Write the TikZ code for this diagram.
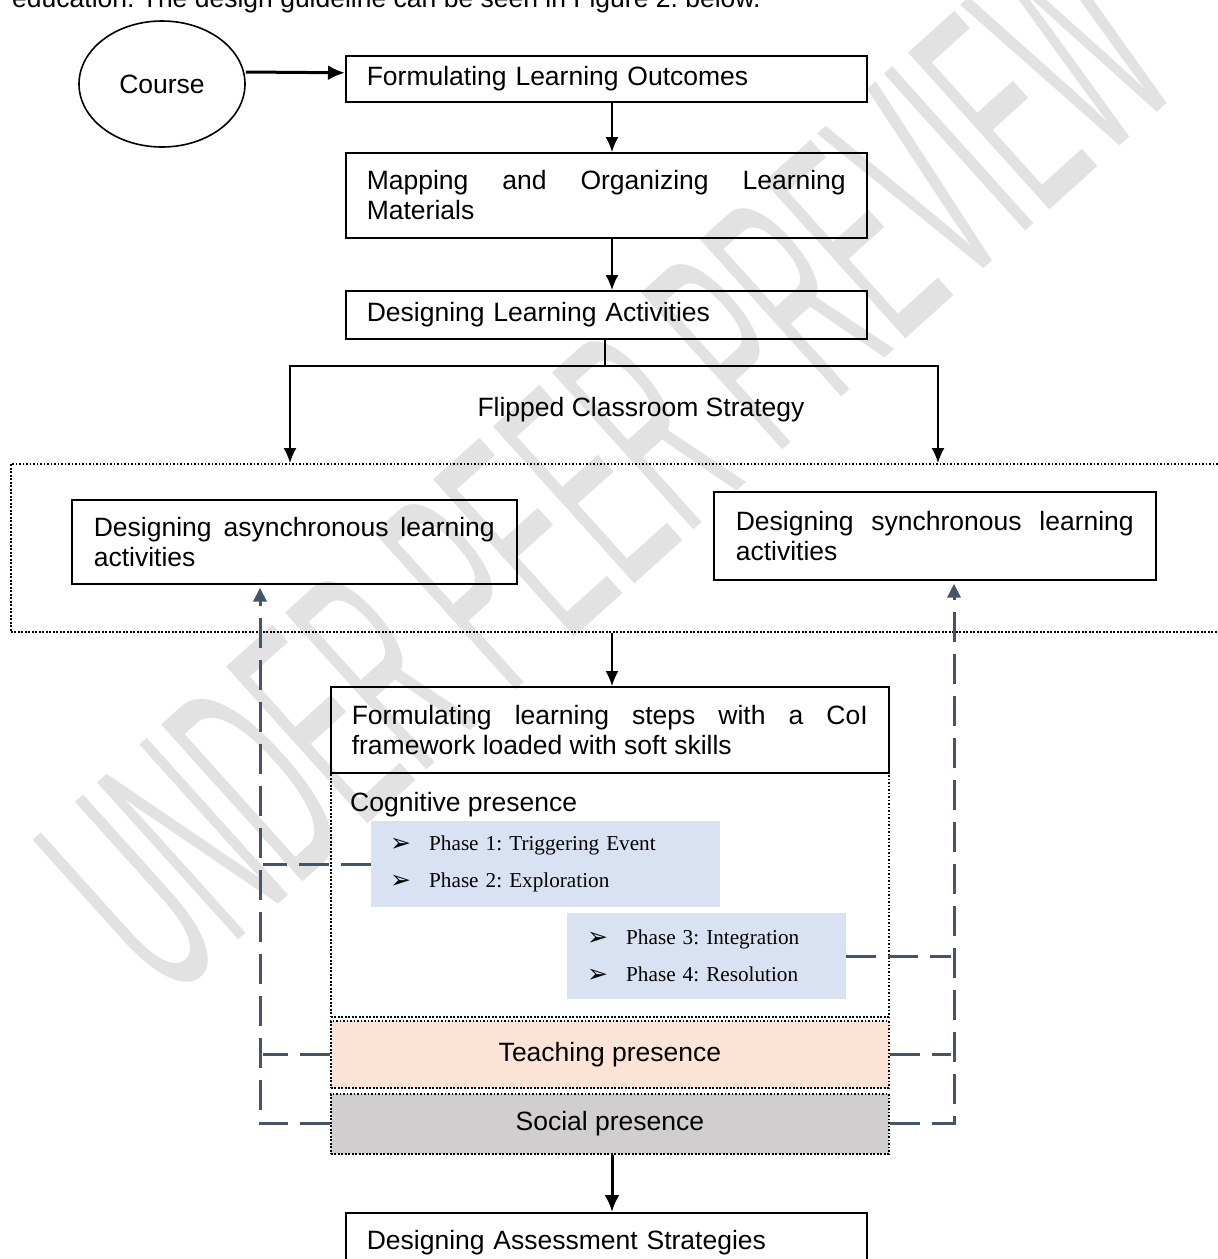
\documentclass[tikz,border=0pt]{standalone}
\usepackage{fontspec}
\setmainfont{Liberation Sans}
\newfontfamily\phasefont{Liberation Serif}
\newfontfamily\symfont{DejaVu Sans}
\usetikzlibrary{positioning,arrows.meta,shapes.geometric}

\definecolor{dashblue}{HTML}{44546A}
\definecolor{phaseblue}{HTML}{D9E2F3}
\definecolor{teachpeach}{HTML}{FBE4D5}
\definecolor{socialgray}{HTML}{D0CECE}
\definecolor{markgray}{HTML}{E2E2E2}

\newcommand{\mainsize}{\fontsize{26.5}{30}\selectfont}
\newcommand{\phasesize}{\phasefont\fontsize{21.2}{37}\selectfont}
\newcommand{\pbullet}{\makebox[39pt][l]{\raisebox{-1pt}{\symfont\fontsize{25}{25}\selectfont ➢}}}

\hyphenpenalty=10000
\tolerance=9999
\frenchspacing

\begin{document}
\begin{tikzpicture}[
  x=1pt,y=-1pt,
  every node/.style={font=\mainsize},
  box/.style={draw,line width=1.6pt,anchor=north west,inner sep=0pt},
  dotbox/.style={draw,line width=1.9pt,dash pattern=on 1.9pt off 1.6pt,anchor=north west,inner sep=0pt},
  phasebox/.style={fill=phaseblue,anchor=north west,inner xsep=19pt,inner ysep=0pt,align=left,font=\phasesize},
  flow/.style={line width=1.6pt,-{Latex[length=15pt,width=13pt]}},
  bigflow/.style={line width=3pt,-{Latex[length=17pt,width=15pt]}},
  feedback/.style={draw=dashblue,line width=3pt,dash pattern=on 30pt off 12pt,-{Triangle[length=14pt,width=13pt]},shorten >=3pt}
]
\useasboundingbox (0,0) rectangle (1218,1259);
\clip (0,0) rectangle (1218,1259);

% watermark and running text
\node[text=markgray,rotate=42] (mark) at (607,468)
  {\scalebox{0.39}[1]{\fontsize{307}{307}\selectfont UNDER PEER PREVIEW}};
\node[anchor=base west,inner sep=0pt] (intro) at (12,7)
  {education. The design guideline can be seen in Figure 2. below.};

% main flow
\node[ellipse,draw,line width=1.6pt,minimum width=166,minimum height=126,inner sep=0pt] (course) at (162,84) {Course};
\node[box,minimum width=521,minimum height=46,text width=479,align=left] (outcomes) at (345,55) {Formulating Learning Outcomes};
\node[box,minimum width=521,minimum height=85,text width=479,align=justify] (mapping) at (345,152) {Mapping and Organizing Learning Materials};
\node[box,minimum width=521,minimum height=48,text width=479,align=left] (activities) at (345,290) {Designing Learning Activities};
\node (strategy) at (641,410) {Flipped Classroom Strategy};

\node[dotbox,minimum width=1230,minimum height=168] (flipped) at (10,463) {};
\node[box,minimum width=445,minimum height=84,text width=401,align=justify] (async) at (71,499) {Designing asynchronous learning activities};
\node[box,minimum width=442,minimum height=88,text width=398,align=justify] (sync) at (713,491) {Designing synchronous learning activities};

\node[box,minimum width=558,minimum height=86,text width=516,align=justify] (steps) at (330,686) {Formulating learning steps with a CoI framework loaded with soft skills};
\node[dotbox,minimum width=558,minimum height=244] (cognitive) at (330,772) {};
\node[anchor=base west,inner sep=0pt] (cogtitle) at (350,811) {Cognitive presence};
\node[phasebox,minimum width=349,minimum height=86,text width=311] (phaseA) at (371,821)
  {\pbullet Phase 1: Triggering Event\\ \pbullet Phase 2: Exploration};
\node[phasebox,minimum width=279,minimum height=86,inner xsep=20pt,text width=239] (phaseB) at (567,913)
  {\pbullet Phase 3: Integration\\ \pbullet Phase 4: Resolution};
\node[dotbox,fill=teachpeach,minimum width=558,minimum height=67] (teaching) at (330,1020) {\raisebox{3pt}{Teaching presence}};
\node[dotbox,fill=socialgray,minimum width=558,minimum height=60] (social) at (330,1093) {Social presence};
\node[box,minimum width=521,minimum height=60,text width=479,align=left] (assessment) at (345,1212) {Designing Assessment Strategies};

% connectors
\coordinate (spine) at (612,0);
\coordinate (split) at (605,366);
\coordinate (asyncdrop) at (290,366);
\coordinate (syncdrop) at (938,366);
\draw[bigflow] ([yshift=12pt]course.east) -- ([yshift=6pt]outcomes.west);
\draw[flow] (outcomes.south -| spine) -- (mapping.north -| spine);
\draw[flow] (mapping.south -| spine) -- (activities.north -| spine);
\draw[line width=1.6pt] (activities.south -| split) -- (split);
\draw[flow] (split) -- (asyncdrop) -- (asyncdrop |- flipped.north);
\draw[flow] (split) -- (syncdrop) -- (syncdrop |- flipped.north);
\draw[flow] (flipped.south -| spine) -- (steps.north -| spine);
\draw[bigflow] (social.south -| spine) -- (assessment.north -| spine);

% feedback rails
\coordinate (leftrail) at (260,0);
\coordinate (rightrail) at (954,0);
\draw[feedback] (social.west) -- (social.west -| leftrail) -- (async.south -| leftrail);
\draw[feedback,-] (teaching.west) -- (teaching.west -| leftrail);
\draw[feedback,-] (phaseA.west) -- (phaseA.west -| leftrail);
\draw[feedback] (social.east) -- (social.east -| rightrail) -- (sync.south -| rightrail);
\draw[feedback,-] (teaching.east) -- (teaching.east -| rightrail);
\draw[feedback,-] (phaseB.east) -- (phaseB.east -| rightrail);

\end{tikzpicture}
\end{document}
